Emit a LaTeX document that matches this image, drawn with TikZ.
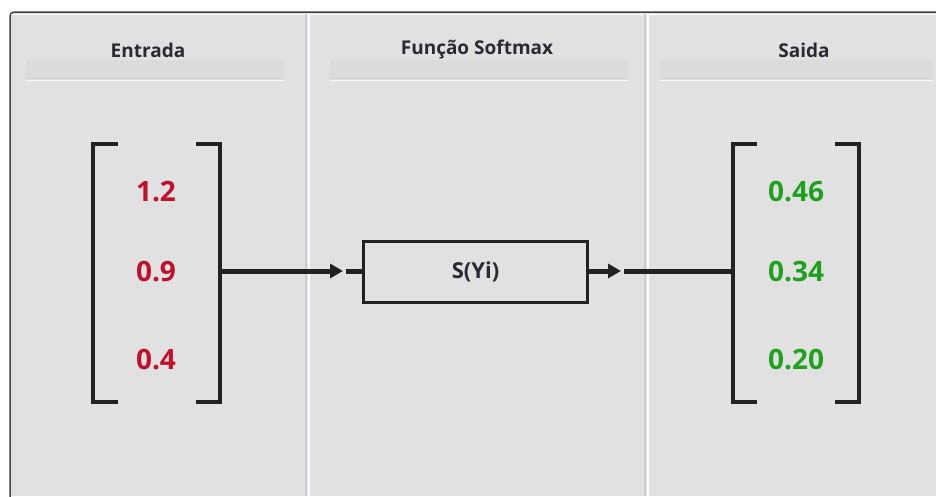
\documentclass[tikz,border=0pt]{standalone}
\usepackage{fontspec}
\setmainfont{Open Sans}
\usetikzlibrary{arrows.meta}
\definecolor{bg}{HTML}{E1E1E1}
\definecolor{hdrbar}{HTML}{DBDBDB}
\definecolor{hdrline}{HTML}{CFCFD4}
\definecolor{divdark}{HTML}{CCCCD4}
\definecolor{ink}{HTML}{222222}
\definecolor{redval}{HTML}{C0102C}
\definecolor{greenval}{HTML}{1FA01F}
\definecolor{hdrtext}{HTML}{2A2A33}
\tikzset{
  hdr/.style={font=\bfseries\fontsize{19}{22}\selectfont, text=hdrtext, inner sep=0pt},
  inval/.style={font=\bfseries\fontsize{28}{32}\selectfont, text=redval, inner sep=0pt},
  outval/.style={font=\bfseries\fontsize{28}{32}\selectfont, text=greenval, inner sep=0pt},
  brk/.style={draw=ink, line width=3.5pt, line cap=rect},
  fbox/.style={draw=ink, line width=3.5pt, fill=bg, minimum width=224pt, minimum height=61pt, inner sep=0pt, font=\bfseries\fontsize{22}{26}\selectfont, text=hdrtext},
  conn/.style={draw=ink, line width=5pt},
  tip/.style={-{Triangle[length=13pt,width=14pt]}},
}
\begin{document}
\begin{tikzpicture}[x=1pt,y=-1pt]
\useasboundingbox (0,0) rectangle (936,496);
\fill[white] (0,0) rectangle (936,496);
% panel
\fill[bg] (10,12) rectangle (936,496);
\draw[ink!85, line width=1.5pt, rounded corners=4pt] (10,497) -- (10,12) -- (937,12);
\draw[white, line width=1pt] (11,14.5) -- (936,14.5);
% column dividers
\foreach \xx in {306,645}{
  \draw[divdark, line width=2.5pt] (\xx,14) -- (\xx,496);
  \draw[white!95!bg, line width=1.5pt] (\xx+3,14) -- (\xx+3,496);
}
% header bars
\foreach \a/\b in {26/284, 330/628, 660/933}{
  \fill[hdrbar] (\a,60) rectangle (\b,78);
  \draw[hdrline, line width=1.2pt] (\a,78.5) -- (\b,78.5);
  \draw[white!90!bg, line width=1.2pt] (\a,80.5) -- (\b,80.5);
}
\node[hdr] (h1) at (148,50) {Entrada};
\node[hdr] (h2) at (477,50) {Função Softmax};
\node[hdr] (h3) at (804,50) {Saida};
% input bracket
\draw[brk] (116,144) -- (93,144) -- (93,402) -- (116,402);
\draw[brk] (198,144) -- (220,144) -- (220,402) -- (198,402);
\node[inval] (i1) at (156,192) {1.2};
\node[inval] (i2) at (156,272) {0.9};
\node[inval] (i3) at (156,360) {0.4};
% output bracket
\draw[brk] (755,144) -- (733,144) -- (733,402) -- (755,402);
\draw[brk] (837,144) -- (859,144) -- (859,402) -- (837,402);
\node[outval] (o1) at (796,192) {0.46};
\node[outval] (o2) at (796,272) {0.34};
\node[outval] (o3) at (796,360) {0.20};
% function box
\node[fbox] (f) at (475.5,272) {S(Yi)};
\coordinate (inR) at (220,271);
\coordinate (a1) at (343,271);
\coordinate (a1g) at (346,271);
\coordinate (b1) at (621,271);
\coordinate (b1g) at (624,271);
\coordinate (outL) at (733,271);
\draw[conn, tip] (inR) -- (a1);
\draw[conn] (a1g) -- (f.west |- a1g);
\draw[conn, tip] (f.east |- b1) -- (b1);
\draw[conn] (b1g) -- (outL);
\end{tikzpicture}
\end{document}
